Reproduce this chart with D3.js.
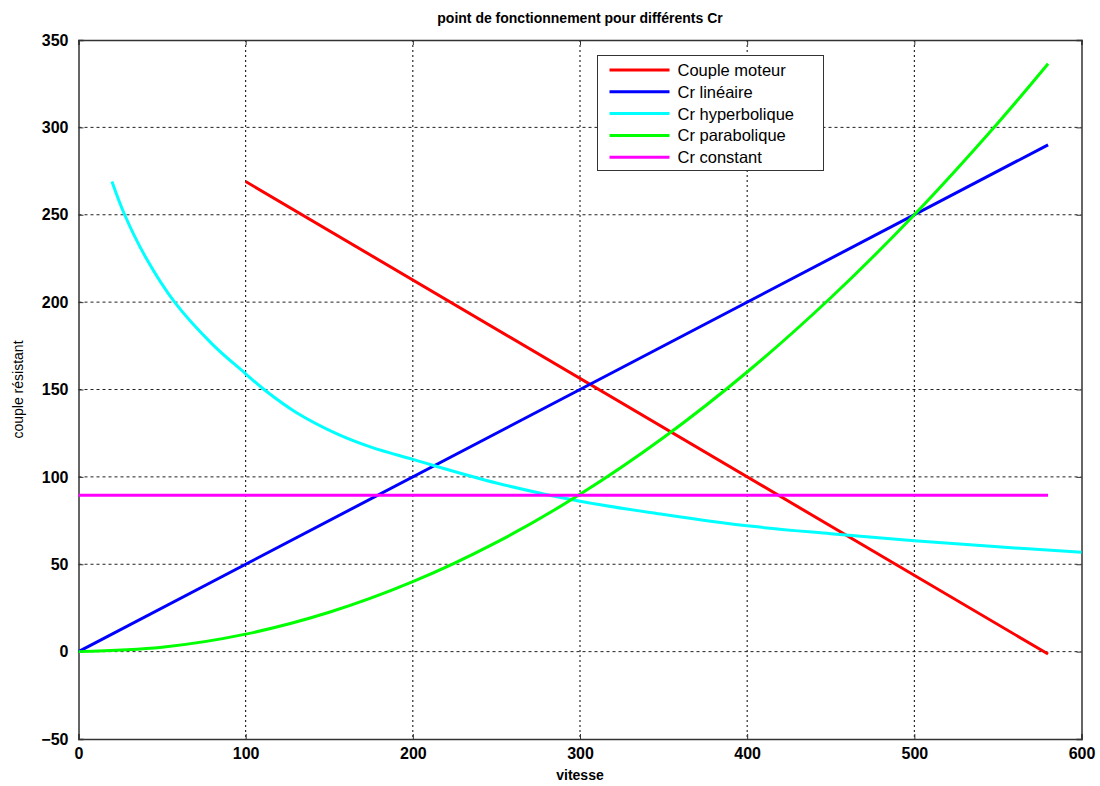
<!DOCTYPE html>
<html>
<head>
<meta charset="utf-8">
<title>point de fonctionnement</title>
<script src="https://cdn.jsdelivr.net/npm/d3@7"></script>
<style>
    body { margin: 0; background: #fff; }
    svg { display: block; font-family: "Liberation Sans", Arial, sans-serif; }
    .tick-label { font-size: 16px; font-weight: bold; fill: #000; }
    .grid line { stroke: #000; stroke-width: 1; stroke-dasharray: 2,3; }
</style>
</head>
<body>
<div id="chart"></div>
<script>
var xTicks = [0, 100, 200, 300, 400, 500, 600];
var yTicks = [-50, 0, 50, 100, 150, 200, 250, 300, 350];

var seriesNames = ['Couple moteur', 'Cr linéaire', 'Cr hyperbolique', 'Cr parabolique', 'Cr constant'];
var seriesColors = ['#ff0000', '#0000ff', '#00ffff', '#00ff00', '#ff00ff'];

// couple moteur
var moteurX = [100, 580];
var moteurY = [269, -1.4];

// Cr linéaire
var lineaireX = [0, 580];
var lineaireY = [0, 290];

// Cr hyperbolique
var hyperX = [20, 27.6, 40, 57.5, 80, 100, 111, 130, 156, 175, 200, 250, 300, 350, 400, 450, 500, 550, 600];
var hyperY = [269, 250, 226, 200, 176, 159, 150, 137, 124, 117, 110, 96.5, 86, 78.5, 72, 67.5, 63.5, 60, 56.8];

// Cr parabolique
var paraX = [0, 50, 100, 150, 200, 250, 300, 350, 400, 450, 500, 550, 580];
var paraY = [0, 2.5, 10, 22.5, 40, 62.5, 90, 122.5, 160, 202.5, 250, 302.5, 336.4];

// Cr constant
var constX = [0, 580];
var constY = [89.5, 89.5];

(function() {
    'use strict';

    var width = 1100, height = 786;
    var margin = {left: 78.5, right: 18.5, top: 40, bottom: 47};

    var svg = d3.select('#chart').append('svg')
        .attr('width', width)
        .attr('height', height);

    var x = d3.scaleLinear().domain([0, 600]).range([margin.left, width - margin.right]);
    var y = d3.scaleLinear().domain([-50, 350]).range([height - margin.bottom, margin.top]);

    var toPoints = function(xs, ys) {
        return xs.map(function(v, i) { return [v, ys[i]]; });
    };

    var series = [
        toPoints(moteurX, moteurY),
        toPoints(lineaireX, lineaireY),
        toPoints(hyperX, hyperY),
        toPoints(paraX, paraY),
        toPoints(constX, constY)
    ];

    // grid
    var grid = svg.append('g').attr('class', 'grid');
    grid.selectAll('line.gx')
        .data(xTicks.slice(1, -1))
        .enter()
        .append('line')
        .attr('x1', function(d) { return x(d); })
        .attr('x2', function(d) { return x(d); })
        .attr('y1', y(350))
        .attr('y2', y(-50));
    grid.selectAll('line.gy')
        .data(yTicks.slice(1, -1))
        .enter()
        .append('line')
        .style('stroke-dasharray', '3,3')
        .style('stroke', '#222')
        .attr('x1', x(0))
        .attr('x2', x(600))
        .attr('y1', function(d) { return y(d); })
        .attr('y2', function(d) { return y(d); });

    // axes, ticks pointing inside like matlab
    var axBottom = svg.append('g')
        .attr('transform', 'translate(0,' + y(-50) + ')')
        .call(d3.axisBottom(x).tickValues(xTicks).tickSize(-5).tickPadding(9));
    var axTop = svg.append('g')
        .attr('transform', 'translate(0,' + y(350) + ')')
        .call(d3.axisTop(x).tickValues(xTicks).tickSize(-5).tickFormat(''));
    var axLeft = svg.append('g')
        .attr('transform', 'translate(' + x(0) + ',0)')
        .call(d3.axisLeft(y).tickValues(yTicks).tickSize(-5).tickPadding(10));
    var axRight = svg.append('g')
        .attr('transform', 'translate(' + x(600) + ',0)')
        .call(d3.axisRight(y).tickValues(yTicks).tickSize(-5).tickFormat(''));

    [axBottom, axTop, axLeft, axRight].forEach(function(ax) {
        ax.selectAll('.domain').attr('stroke', '#333').attr('stroke-width', 1.5);
        ax.selectAll('.tick line').attr('stroke', '#333');
        ax.selectAll('text').attr('class', 'tick-label').attr('font-family', null).attr('font-size', null);
    });

    // curves
    var line = d3.line()
        .x(function(d) { return x(d[0]); })
        .y(function(d) { return y(d[1]); })
        .curve(d3.curveCatmullRom.alpha(0.5));

    svg.append('g').selectAll('path')
        .data(series)
        .enter()
        .append('path')
        .attr('d', line)
        .attr('fill', 'none')
        .attr('stroke', function(d, i) { return seriesColors[i]; })
        .attr('stroke-width', 3);

    // legend
    var legend = svg.append('g').attr('transform', 'translate(597.5,55.5)');
    legend.append('rect')
        .attr('width', 226)
        .attr('height', 115)
        .attr('fill', '#fff')
        .attr('stroke', '#333')
        .attr('stroke-width', 1);
    var rows = legend.selectAll('g.row')
        .data(seriesNames)
        .enter()
        .append('g')
        .attr('transform', function(d, i) { return 'translate(0,' + (14.5 + i * 21.8) + ')'; });
    rows.append('line')
        .attr('x1', 12)
        .attr('x2', 72)
        .attr('stroke', function(d, i) { return seriesColors[i]; })
        .attr('stroke-width', 3);
    rows.append('text')
        .attr('x', 80)
        .attr('dy', '0.36em')
        .style('font-size', '16.5px')
        .text(function(d) { return d; });

    // titles
    svg.append('text')
        .attr('x', x(300))
        .attr('y', 23)
        .attr('text-anchor', 'middle')
        .style('font-size', '14px')
        .style('font-weight', 'bold')
        .text('point de fonctionnement pour différents Cr');

    svg.append('text')
        .attr('x', x(300))
        .attr('y', 780)
        .attr('text-anchor', 'middle')
        .style('font-size', '14px')
        .style('font-weight', 'bold')
        .text('vitesse');

    svg.append('text')
        .attr('transform', 'translate(23,' + y(150) + ') rotate(-90)')
        .attr('text-anchor', 'middle')
        .style('font-size', '14px')
        .text('couple résistant');
})();
</script>
</body>
</html>
